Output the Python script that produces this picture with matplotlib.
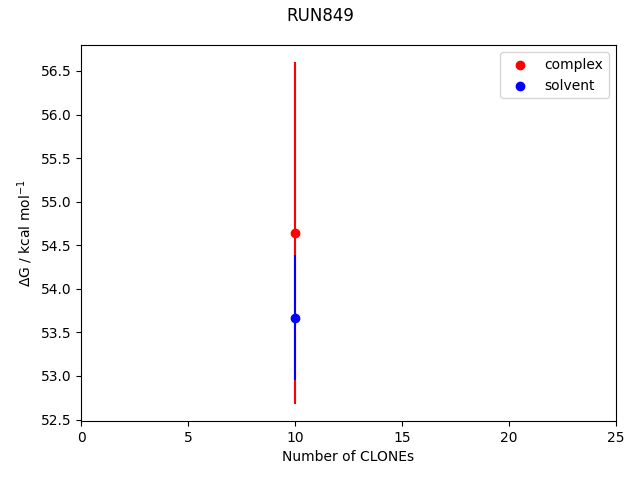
import matplotlib
matplotlib.use('Agg')
import matplotlib.pyplot as plt

# Data
run_name = "RUN849"
n_clones = [10]
complex_dg = [54.64]
complex_err = [1.96]
solvent_dg = [53.67]
solvent_err = [0.72]

fig, ax = plt.subplots(figsize=(6.4, 4.8), dpi=100)
fig.suptitle(run_name, y=0.985)

ax.errorbar(n_clones, complex_dg, yerr=complex_err, fmt='none', ecolor='red')
ax.scatter(n_clones, complex_dg, color='red', label='complex', zorder=3)
ax.errorbar(n_clones, solvent_dg, yerr=solvent_err, fmt='none', ecolor='blue')
ax.scatter(n_clones, solvent_dg, color='blue', label='solvent', zorder=3)

ax.set_xlim(0, 25)
ax.set_xlabel("Number of CLONEs")
ax.set_ylabel(r"$\Delta$G / kcal mol$^{-1}$")
ax.legend(loc='upper right')

fig.subplots_adjust(left=0.1266, right=0.9625, top=0.906, bottom=0.123)
fig.savefig("out.png", dpi=100)
